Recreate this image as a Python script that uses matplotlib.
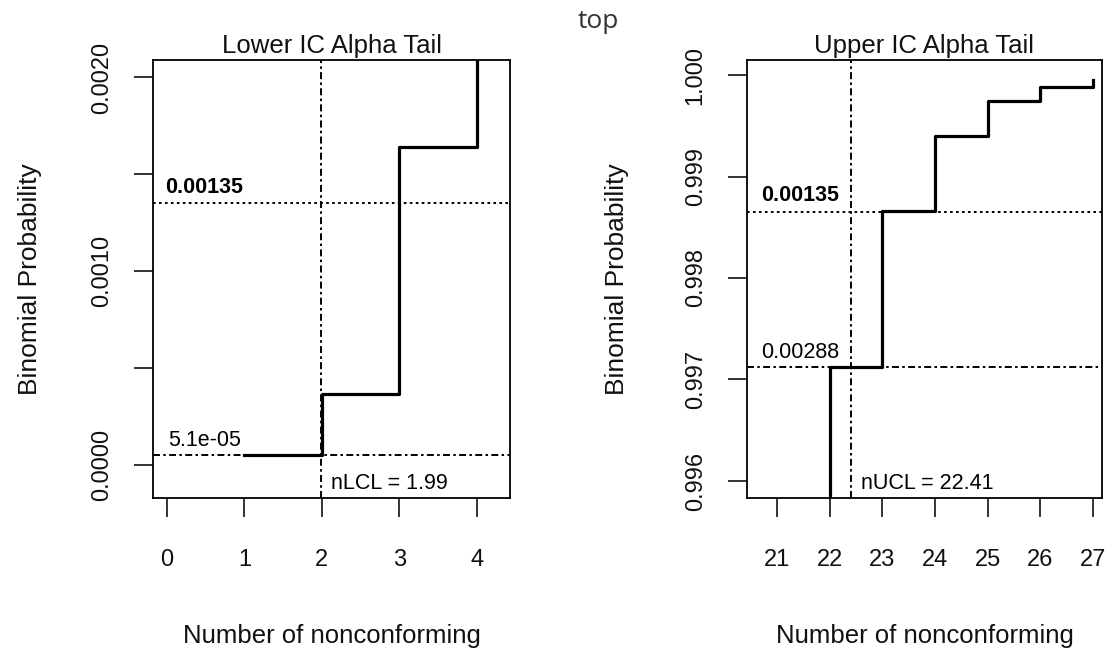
import numpy as np
import matplotlib
matplotlib.use("Agg")
import matplotlib.pyplot as plt
import matplotlib.transforms as mtransforms

plt.rcParams['font.family'] = ['Liberation Sans', 'DejaVu Sans']
plt.rcParams['lines.scale_dashes'] = False

# cumulative binomial probabilities by number of nonconforming
lower_x = [1, 2, 3, 4]
lower_cdf = [5.1e-05, 0.000366, 0.00164, 0.0058]
upper_x = [21, 22, 23, 24, 25, 26, 27]
upper_cdf = [0.9925, 0.99712, 0.99866, 0.99940, 0.99974, 0.99988, 0.99995]

alpha = 0.00135
lower_p = 5.1e-05
upper_p = 0.00288
nLCL = 1.99
nUCL = 22.41

lower_xticks = [0, 1, 2, 3, 4]
lower_yticks = [0.0, 0.0005, 0.0010, 0.0015, 0.0020]
lower_ylabels = ["0.0000", "", "0.0010", "", "0.0020"]
upper_xticks = [21, 22, 23, 24, 25, 26, 27]
upper_yticks = [0.996, 0.997, 0.998, 0.999, 1.000]
upper_ylabels = ["0.996", "0.997", "0.998", "0.999", "1.000"]

dotted = (0, (1.9, 2.4))
dotdash = (0, (5.0, 2.4, 1.8, 2.4))

W, H = 1105, 653
fig = plt.figure(figsize=(W / 100, H / 100), dpi=100)
ax1 = fig.add_axes([153 / W, 155 / H, 357 / W, 438 / H])
ax2 = fig.add_axes([747 / W, 155 / H, 355 / W, 438 / H])


def style_axes(ax, xticks, yticks, ylabels, title, xlim, ylim, ylab_x):
    ax.set_xlim(xlim)
    ax.set_ylim(ylim)
    ax.set_xticks(xticks)
    ax.set_xticklabels([str(t) for t in xticks])
    ax.set_yticks(yticks)
    ax.set_yticklabels(ylabels)
    for s in ax.spines.values():
        s.set_linewidth(1.3)
    ax.tick_params(direction='out', length=14, width=1.2, labelsize=17,
                   colors='#111111')
    ax.tick_params(axis='x', pad=23)
    ax.tick_params(axis='y', pad=15)
    for lab in ax.get_yticklabels():
        lab.set_rotation(90)
        lab.set_va('center')
    ax.set_title(title, fontsize=18.5, pad=5, color='#111111')
    ax.set_xlabel("Number of nonconforming", fontsize=18.5, color='#111111')
    ax.set_ylabel("Binomial Probability", fontsize=19, color='#111111')
    ax.xaxis.label.set_va('center')
    ax.yaxis.label.set_va('center')
    ax.xaxis.set_label_coords(0.5, -0.315)
    ax.yaxis.set_label_coords(ylab_x, 0.5)


# lower tail
style_axes(ax1, lower_xticks, lower_yticks, lower_ylabels,
           "Lower IC Alpha Tail", (-0.18, 4.43), (-0.00017, 0.00209), -0.345)
ax1.plot(lower_x, lower_cdf, drawstyle='steps-post', color='k', lw=2.3)
ax1.axhline(alpha, color='k', lw=1.4, linestyle=dotted)
ax1.axhline(lower_p, color='k', lw=1.4, linestyle=dotdash)
ax1.axvline(nLCL, color='k', lw=1.4, linestyle=dotdash)
tr1 = mtransforms.blended_transform_factory(ax1.transAxes, ax1.transData)
ax1.annotate("0.00135", (0.034, alpha), xycoords=tr1, xytext=(0, 4),
             textcoords='offset points', fontsize=15.5, fontweight='bold',
             va='bottom')
ax1.annotate("5.1e-05", (0.042, lower_p), xycoords=tr1, xytext=(0, 3),
             textcoords='offset points', fontsize=15.5, va='bottom')
ax1.annotate("nLCL = 1.99", (nLCL, 0.0), xycoords=('data', 'axes fraction'),
             xytext=(7, 3), textcoords='offset points', fontsize=15.5,
             va='bottom')

# upper tail
style_axes(ax2, upper_xticks, upper_yticks, upper_ylabels,
           "Upper IC Alpha Tail", (20.43, 27.17), (0.995832, 1.000148), -0.366)
ax2.plot(upper_x, upper_cdf, drawstyle='steps-post', color='k', lw=2.3)
ax2.axhline(1 - alpha, color='k', lw=1.4, linestyle=dotted)
ax2.axhline(1 - upper_p, color='k', lw=1.4, linestyle=dotdash)
ax2.axvline(nUCL, color='k', lw=1.4, linestyle=dotdash)
tr2 = mtransforms.blended_transform_factory(ax2.transAxes, ax2.transData)
ax2.annotate("0.00135", (0.039, 1 - alpha), xycoords=tr2, xytext=(0, 4),
             textcoords='offset points', fontsize=15.5, fontweight='bold',
             va='bottom')
ax2.annotate("0.00288", (0.039, 1 - upper_p), xycoords=tr2, xytext=(0, 3),
             textcoords='offset points', fontsize=15.5, va='bottom')
ax2.annotate("nUCL = 22.41", (nUCL, 0.0), xycoords=('data', 'axes fraction'),
             xytext=(7, 3), textcoords='offset points', fontsize=15.5,
             va='bottom')

fig.text(598 / W, 1 - 22 / H, "top", fontsize=19, family='Open Sans',
         color='#333333', ha='center', va='center')

fig.savefig("out.png", dpi=100)
